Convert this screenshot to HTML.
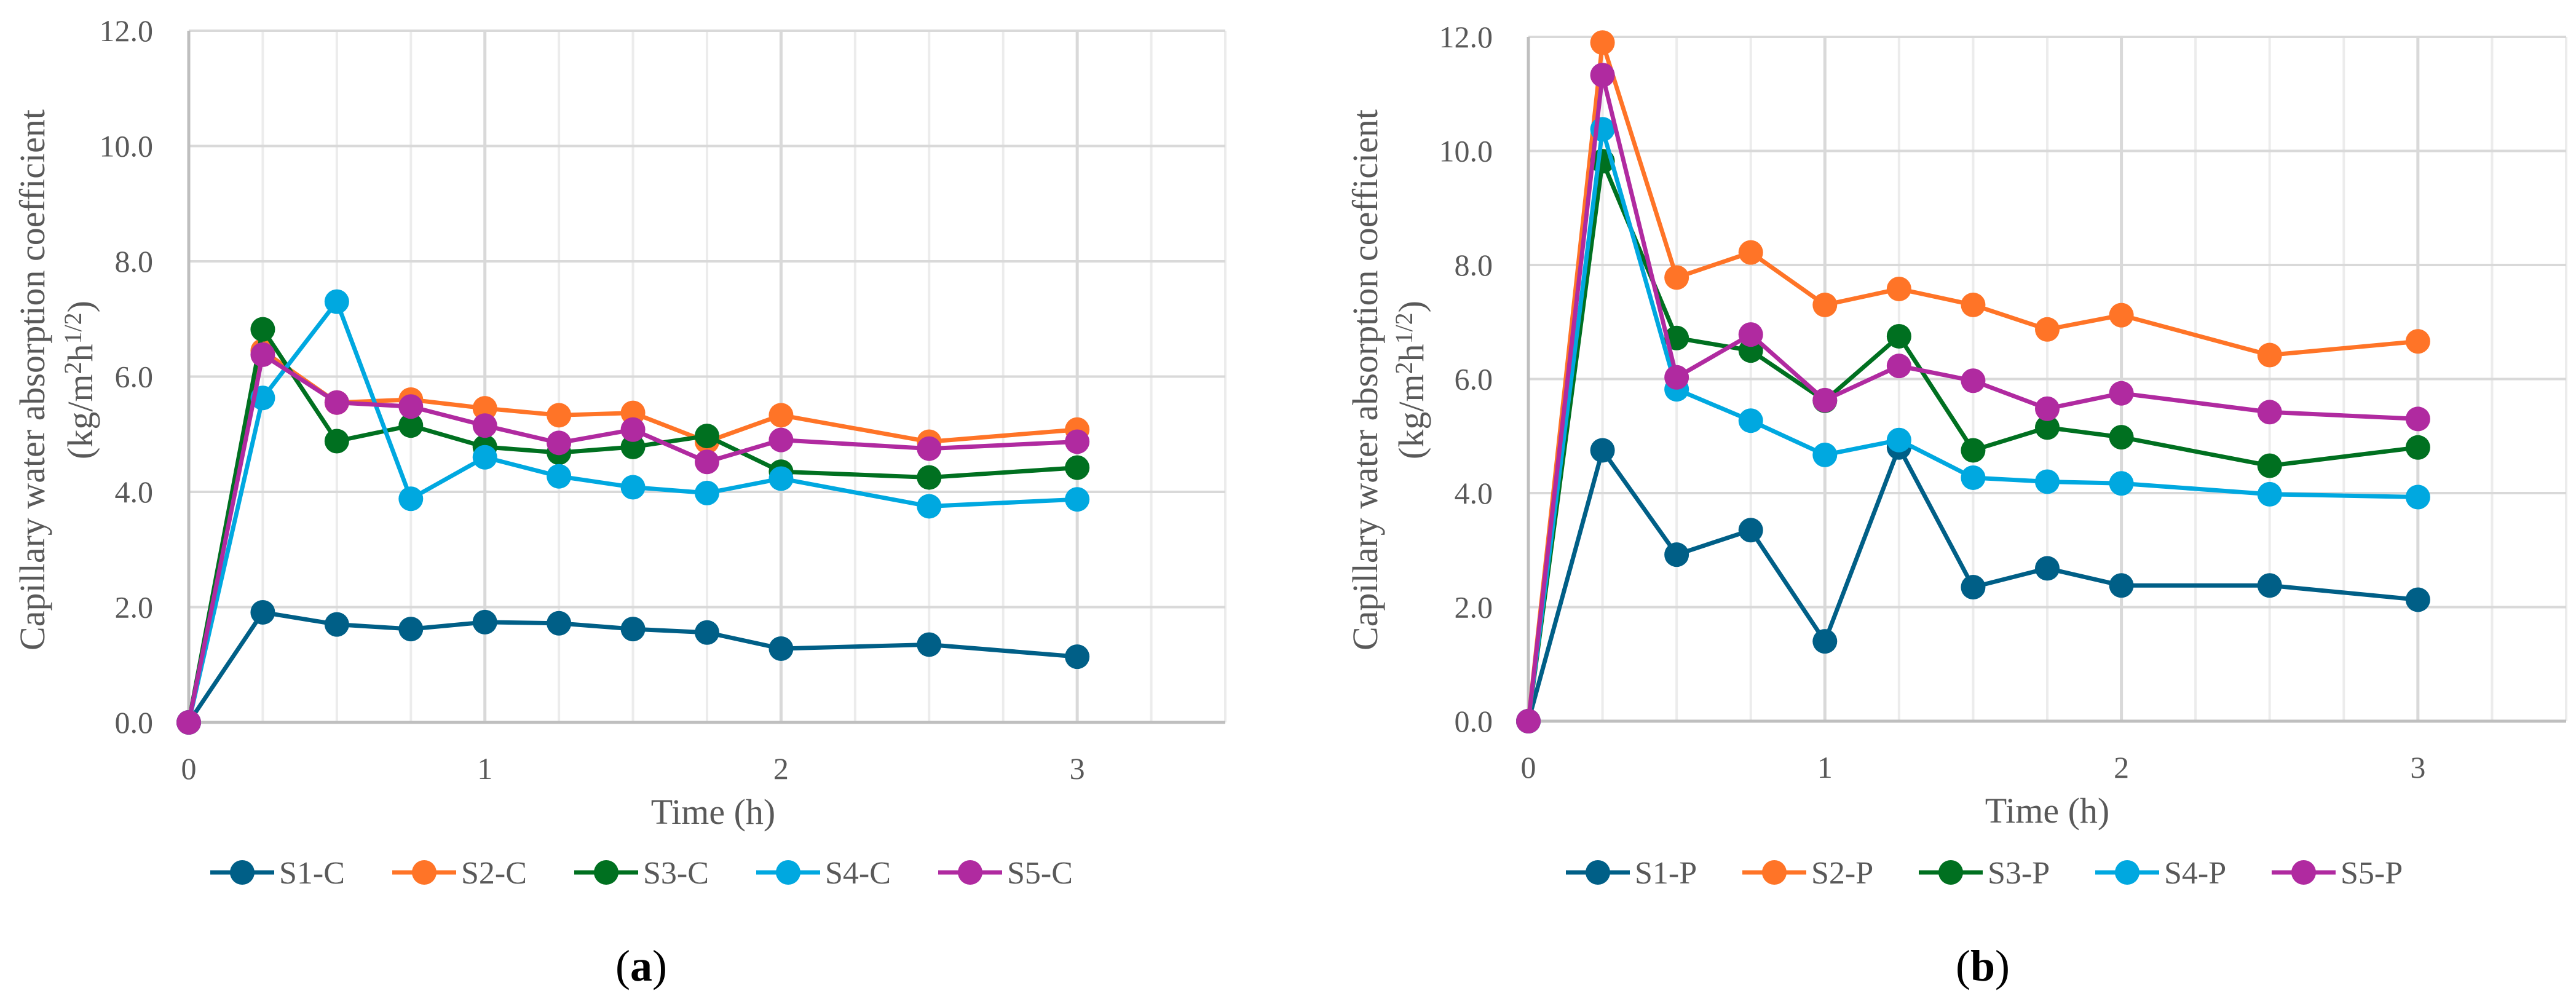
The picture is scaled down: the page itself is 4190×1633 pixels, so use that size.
<!DOCTYPE html>
<html><head><meta charset="utf-8"><style>
html,body{margin:0;padding:0;background:#fff;}
svg{display:block;font-family:"Liberation Serif",serif;}
</style></head><body>
<svg id="fig" width="4190" height="1633" viewBox="0 0 4190 1633" xmlns="http://www.w3.org/2000/svg">
<rect width="4190" height="1633" fill="#fff"/>
</svg>
<script>
const xValues = [0,0.25,0.5,0.75,1,1.25,1.5,1.75,2,2.5,3];
const yTicks = [0,2,4,6,8,10,12];
const yTickLabels = ["0.0","2.0","4.0","6.0","8.0","10.0","12.0"];
const xTicks = [0,1,2,3];
const seriesNamesA = ["S1-C","S2-C","S3-C","S4-C","S5-C"];
const seriesNamesB = ["S1-P","S2-P","S3-P","S4-P","S5-P"];
const s1c = [0,1.91,1.70,1.62,1.74,1.72,1.62,1.56,1.28,1.35,1.14];
const s2c = [0,6.45,5.55,5.60,5.45,5.33,5.37,4.87,5.33,4.87,5.08];
const s3c = [0,6.82,4.88,5.15,4.78,4.68,4.78,4.97,4.35,4.25,4.42];
const s4c = [0,5.63,7.30,3.88,4.60,4.27,4.08,3.98,4.23,3.75,3.87];
const s5c = [0,6.38,5.55,5.48,5.15,4.85,5.08,4.52,4.90,4.75,4.87];
const s1p = [0,4.75,2.92,3.35,1.40,4.80,2.35,2.68,2.38,2.38,2.13];
const s2p = [0,11.90,7.78,8.22,7.30,7.58,7.30,6.87,7.12,6.42,6.66];
const s3p = [0,9.82,6.72,6.50,5.62,6.75,4.75,5.15,4.98,4.48,4.80];
const s4p = [0,10.38,5.82,5.27,4.67,4.93,4.27,4.20,4.17,3.98,3.93];
const s5p = [0,11.33,6.03,6.78,5.63,6.23,5.97,5.48,5.75,5.42,5.30];
const colors = ["#005f87","#ff7427","#007020","#00a8e0","#b02aa0"];

const NS="http://www.w3.org/2000/svg";
const svg=document.getElementById('fig');
function mk(tag,attrs,parent){const e=document.createElementNS(NS,tag);for(const k in attrs)e.setAttribute(k,attrs[k]);(parent||svg).appendChild(e);return e;}

function drawChart(cfg){
  const g=mk('g',{});
  
  
  const X=v=>cfg.x0+(v/3.5)*(cfg.x1-cfg.x0);
  const Y=v=>cfg.yb-(v/12)*(cfg.yb-cfg.yt);
  // vertical gridlines every 0.25
  for(let i=1;i<=14;i++){
    const v=i*0.25;
    const gl=mk('line',{x1:X(v),x2:X(v),y1:Y(12),y2:Y(0),stroke:(i%4===0)?'#d9d9d9':'#ececec','stroke-width':(i%4===0)?5:4},g);
    
    
  }
  yTicks.forEach((t,i)=>{
    if(t>0){
      const gl=mk('line',{x1:X(0),x2:X(3.5),y1:Y(t),y2:Y(t),stroke:'#d9d9d9','stroke-width':4},g);
      
      
    }
    const tl=mk('text',{x:X(0)-58,y:Y(t)+17,'text-anchor':'end','font-size':50,fill:'#595959'},g);
    tl.textContent=yTickLabels[i];
    
    
  });
  const ya=mk('line',{x1:X(0),x2:X(0),y1:Y(12),y2:Y(0),stroke:'#bfbfbf','stroke-width':5},g);
  
  
  const xa=mk('line',{x1:X(0),x2:X(3.5),y1:Y(0),y2:Y(0),stroke:'#bfbfbf','stroke-width':5},g);
  
  
  xTicks.forEach(t=>{
    const tl=mk('text',{x:X(t),y:Y(0)+92,'text-anchor':'middle','font-size':50,fill:'#595959'},g);
    tl.textContent=String(t);
    
    
  });
  const xt=mk('text',{x:cfg.xTitleX,y:Y(0)+165,'text-anchor':'middle','font-size':58,fill:'#595959'},g);
  xt.textContent='Time (h)';
  
  
  const cy=618;
  const yt1=mk('text',{x:cfg.yTitleX1,y:cy,'text-anchor':'middle','font-size':58,fill:'#595959',transform:`rotate(-90 ${cfg.yTitleX1} ${cy})`},g);
  yt1.textContent='Capillary water absorption coefficient';
  
  
  const yt2=mk('text',{x:cfg.yTitleX2,y:cy,'text-anchor':'middle','font-size':58,fill:'#595959',transform:`rotate(-90 ${cfg.yTitleX2} ${cy})`},g);
  yt2.innerHTML='(kg/m<tspan font-size="40" dy="-18">2</tspan><tspan dy="18">h</tspan><tspan font-size="40" dy="-18">1/2</tspan><tspan dy="18">)</tspan>';
  
  
  cfg.series.forEach((data,si)=>{
    const sg=mk('g',{},g);
    
    
    const pts=data.map((v,i)=>X(xValues[i])+','+Y(v)).join(' ');
    const pl=mk('polyline',{points:pts,fill:'none',stroke:colors[si],'stroke-width':7,'stroke-linejoin':'round'},sg);
    
    
    data.forEach((v,i)=>{
      const c=mk('circle',{cx:X(xValues[i]),cy:Y(v),r:20,fill:colors[si]},sg);
      
      
    });
  });
  // legend
  cfg.names.forEach((n,si)=>{
    const lx=cfg.legX+si*cfg.legStep, ly=1419;
    const lg=mk('g',{},g);
    
    
    mk('line',{x1:lx-52,x2:lx+52,y1:ly,y2:ly,stroke:colors[si],'stroke-width':7},lg);
    mk('circle',{cx:lx,cy:ly,r:20,fill:colors[si]},lg);
    const t=mk('text',{x:lx+60,y:ly+18,'font-size':52,fill:'#595959'},lg);
    t.textContent=n;
  });
  const cap=mk('text',{x:cfg.capX,y:1595,'text-anchor':'middle','font-size':72,fill:'#000'},g);
  cap.innerHTML='(<tspan font-weight="bold">'+cfg.cap+'</tspan>)';
  
  
}
drawChart({name:'chart-a',x0:307,x1:1993,yt:50,yb:1175,series:[s1c,s2c,s3c,s4c,s5c],names:seriesNamesA,
  xTitleX:1160,yTitleX1:72,yTitleX2:150,legX:394,legStep:296,capX:1043,cap:'a'});
drawChart({name:'chart-b',x0:2486,x1:4174,yt:60,yb:1173,series:[s1p,s2p,s3p,s4p,s5p],names:seriesNamesB,
  xTitleX:3330,yTitleX1:2240,yTitleX2:2315,legX:2599,legStep:287,capX:3225,cap:'b'});
</script>
</body></html>
